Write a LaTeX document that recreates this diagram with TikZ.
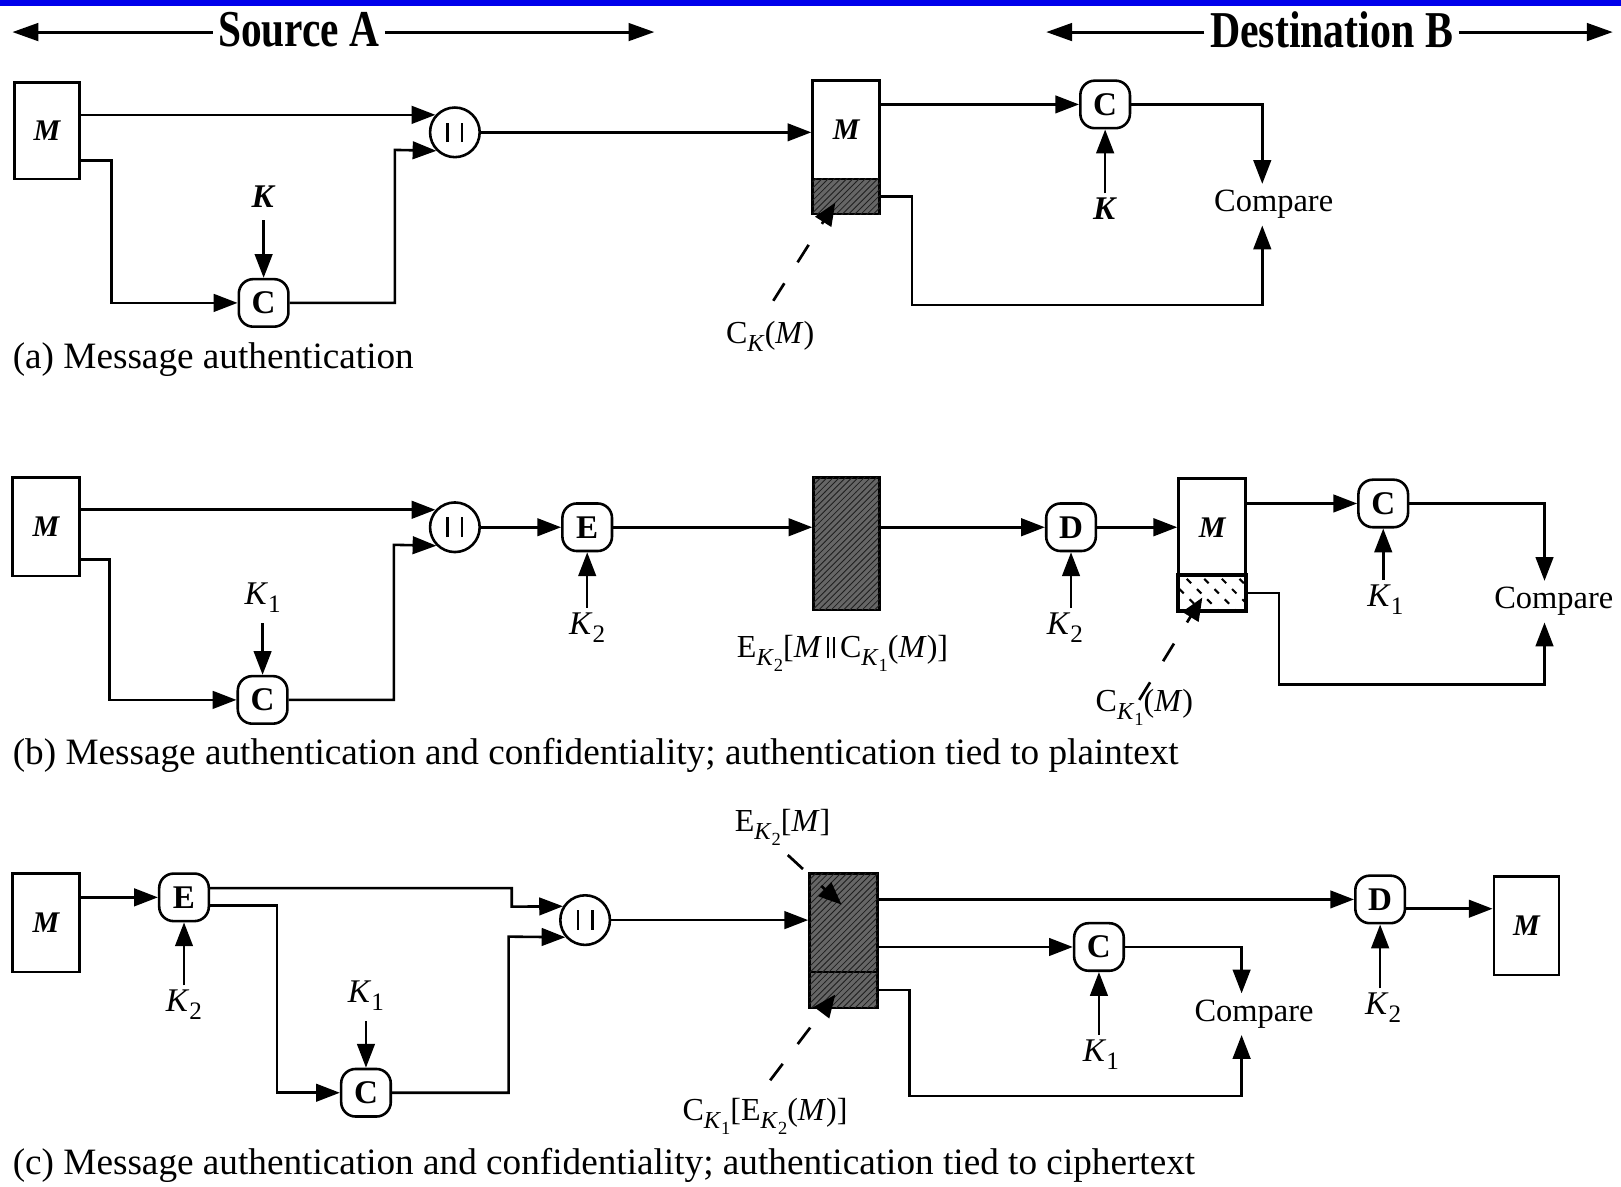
\documentclass[tikz,border=0pt]{standalone}
\usepackage{fontspec}
\setmainfont{Liberation Serif}
\usetikzlibrary{arrows.meta,patterns,calc}
\definecolor{hdrblue}{RGB}{0,0,235}
\newcommand\mybars{\rule{1.1pt}{9.5pt}\hspace{6pt}\rule{1.1pt}{9.5pt}}
\newcommand\midbars{\rule[-0.5pt]{0.8pt}{10.5pt}\hspace{2pt}\rule[-0.5pt]{0.8pt}{10.5pt}}
\newcommand\sbs[1]{\raisebox{-0.55ex}{\scalebox{0.76}{#1}}}
\begin{document}
\begin{tikzpicture}[x=0.5pt,y=-0.5pt,
  ln/.style={line width=1.25pt},
  arr/.style={ln,-{Triangle[length=11.5pt,width=8.5pt]}},
  harr/.style={line width=1.4pt,-{Triangle[length=12.5pt,width=8.5pt]}},
  leader/.style={line width=1.3pt,dash pattern=on 10pt off 12pt,-{Triangle[length=11pt,width=9pt]}},
  mbox/.style={draw,ln,fill=white,minimum width=32pt,minimum height=47pt,inner sep=0pt,font=\fontsize{14.5pt}{14.5pt}\selectfont\bfseries\itshape},
  op/.style={draw,ln,rounded corners=7pt,minimum width=24pt,minimum height=23pt,inner sep=0pt,font=\fontsize{16pt}{16pt}\selectfont\bfseries},
  cat/.style={draw,ln,circle,minimum size=24pt,inner sep=0pt},
  key/.style={inner sep=2pt,font=\fontsize{16pt}{16pt}\selectfont},
  lbl/.style={inner sep=2pt,font=\fontsize{15.5pt}{15.5pt}\selectfont},
  cmp/.style={inner sep=3pt,font=\fontsize{15.7pt}{15.7pt}\selectfont},
  captxt/.style={anchor=west,inner sep=0pt,font=\fontsize{18pt}{18pt}\selectfont},
  hdr/.style={inner sep=2.5pt,font=\fontsize{25pt}{25pt}\selectfont\bfseries},
  hatch/.style={draw,ln,fill=black!60,inner sep=0pt,postaction={pattern=north east lines,pattern color=black!88}},
]
\useasboundingbox (0,0) rectangle (1568,1148);
\fill[white] (0,0) rectangle (1568,1148);
% ---------------- header
\fill[hdrblue] (0,0) rectangle (1568,6);
\node[hdr] (srcA) at (289,29) {\scalebox{0.8}[1]{Source A}};
\coordinate (srcAL) at (12,31);
\coordinate (srcAR) at (633,31);
\draw[harr] (srcAL -| srcA.west) -- (srcAL);
\draw[harr] (srcAR -| srcA.east) -- (srcAR);
\node[hdr] (dstB) at (1288,29) {\scalebox{0.81}[1]{Destination B}};
\coordinate (dstBL) at (1012,31);
\coordinate (dstBR) at (1560,31);
\draw[harr] (dstBL -| dstB.west) -- (dstBL);
\draw[harr] (dstBR -| dstB.east) -- (dstBR);

% ---------------- panel (a)
\node[mbox,minimum height=46.5pt,minimum width=31.5pt] (Ma) at (45.5,126.5) {M};
\node[op] (Ca) at (255,293) {C};
\node[key] (Ka) at (255,190) {\textbf{\textit{K}}};
\node[cat] (cata) at (440,128) {\mybars};
\node[mbox,minimum height=47.5pt,minimum width=32.5pt] (Mda) at (818.5,125.5) {M};
\node[hatch,minimum width=32.5pt,minimum height=17pt] (Tda) at (818.5,190) {};
\node[op] (Cda) at (1069,101) {C};
\node[key] (Kda) at (1069,202) {\textbf{\textit{K}}};
\node[cmp] (Cmpa) at (1232,198) {Compare};
\node[lbl] (CKa) at (745,325) {C\sbs{\textit{K}}(\textit{M})};
\node[captxt] (capa) at (12,348) {(a) Message authentication};

\draw[arr] (Ma.east |- cata.138) -- (cata.138);
\draw[arr] (Ma.east |- 0,155) -| (108,293) -- (Ca.west);
\draw[arr,shorten <=4pt] (Ka.south) -- (Ca.north);
\draw[arr] (Ca.east) -| (382,145) -- (cata.225);
\draw[arr] (cata.east) -- (Mda.west |- cata.east);
\draw[arr] (Mda.east |- Cda.west) -- (Cda.west);
\draw[arr] (Kda.north) -- (Cda.south);
\draw[arr] (Cda.east) -| ([xshift=-5.5pt]Cmpa.north);
\draw[arr] (Tda.east) -| (882,295) -| ([xshift=-5.5pt]Cmpa.south);
\draw[leader] ([xshift=1.5pt,yshift=7.5pt]CKa.north) -- ([xshift=-5.25pt,yshift=-3pt]Tda.center);

% ---------------- panel (b)
\node[mbox,minimum height=47.5pt,minimum width=32.5pt] (Mb) at (44.5,509.5) {M};
\node[op] (Cb) at (254,677) {C};
\node[key] (Kb) at (254,578) {\textit{K}\sbs{1}};
\node[cat] (catb) at (440,510) {\mybars};
\node[op] (Eb) at (568,510) {E};
\node[key] (K2b) at (568,607) {\textit{K}\sbs{2}};
\node[hatch,minimum width=32pt,minimum height=64pt] (Sb) at (819,526) {};
\node[lbl] (Lb) at (815,632) {E\sbs{\textit{K}\sbs{2}}[\textit{M}\,\midbars\,C\sbs{\textit{K}\sbs{1}}(\textit{M})]};
\node[op] (Db) at (1036,510) {D};
\node[key] (K2b2) at (1030,607) {\textit{K}\sbs{2}};
\node[mbox,minimum height=47pt,minimum width=32.5pt] (Mdb) at (1172.5,510) {M};
\node[draw,ln,fill=white,inner sep=0pt,minimum width=32.5pt,minimum height=16.5pt] (Tdb) at (1172.5,573.5) {};
\begin{scope}
  \clip (Tdb.south west) rectangle (Tdb.north east);
  \foreach \k in {0,...,6}
    \draw[line width=1pt,dash pattern=on 3pt off 4pt] (1104+17*\k,550) -- ++(46,46);
\end{scope}
\draw[ln] (Tdb.south west) rectangle (Tdb.north east);
\node[op] (Cdb) at (1338,487) {C};
\node[key] (K1db) at (1340,580) {\textit{K}\sbs{1}};
\node[cmp] (Cmpb) at (1503,582) {Compare};
\node[lbl] (CK1b) at (1107,684) {C\sbs{\textit{K}\sbs{1}}(\textit{M})};
\node[captxt] (capb) at (12,731) {(b) Message authentication and confidentiality; authentication tied to plaintext};

\draw[arr] (Mb.east |- catb.138) -- (catb.138);
\draw[arr] (Mb.east |- 0,541) -| (106,677) -- (Cb.west);
\draw[arr,shorten <=3pt] (Kb.south) -- (Cb.north);
\draw[arr] (Cb.east) -| (381,527) -- (catb.225);
\draw[arr] (catb.east) -- (Eb.west);
\draw[arr] (Eb.south |- K2b.north) -- (Eb.south);
\draw[arr] (Eb.east) -- (Sb.west |- Eb.east);
\draw[arr] (Sb.east |- Db.west) -- (Db.west);
\draw[arr] (Db.south |- K2b2.north) -- (Db.south);
\draw[arr] (Db.east) -- (Mdb.west |- Db.east);
\draw[arr] (Mdb.east |- Cdb.west) -- (Cdb.west);
\draw[arr] (Cdb.south |- K1db.north) -- (Cdb.south);
\draw[arr] (Cdb.east) -| ([xshift=-4.5pt]Cmpb.north);
\draw[arr] (Tdb.east) -| (1237,662) -| ([xshift=-4.5pt]Cmpb.south);
\draw[leader] ([xshift=-2.5pt,yshift=3.5pt]CK1b.center) -- ([xshift=-4.75pt,yshift=-2.25pt]Tdb.center);

% ---------------- panel (c)
\node[mbox,minimum height=47.5pt,minimum width=32.5pt] (Mc) at (44.5,892.5) {M};
\node[op] (Ec) at (178,868) {E};
\node[key] (K2c) at (178,972) {\textit{K}\sbs{2}};
\node[op] (Cc) at (354,1057) {C};
\node[key] (K1c) at (354,963) {\textit{K}\sbs{1}};
\node[cat] (catc) at (566,890) {\mybars};
\node[hatch,minimum width=33pt,minimum height=47.5pt] (Sc) at (816,892.5) {};
\node[hatch,minimum width=33pt,minimum height=17.5pt] (Sc2) at (816,957.5) {};
\node[lbl] (EM) at (757,800) {E\sbs{\textit{K}\sbs{2}}[\textit{M}]};
\node[lbl] (CE) at (740,1080) {C\sbs{\textit{K}\sbs{1}}[E\sbs{\textit{K}\sbs{2}}(\textit{M})]};
\node[op] (Dc) at (1335,870) {D};
\node[key] (K2c2) at (1338,975) {\textit{K}\sbs{2}};
\node[mbox,minimum height=47.5pt,minimum width=31.5pt] (Mdc) at (1476.5,895.5) {M};
\node[op] (Cdc) at (1063,916) {C};
\node[key] (K1dc) at (1065,1020) {\textit{K}\sbs{1}};
\node[cmp] (Cmpc) at (1213,981) {Compare};
\node[captxt] (capc) at (12,1127) {(c) Message authentication and confidentiality; authentication tied to ciphertext};

\draw[arr] (Mc.east |- Ec.west) -- (Ec.west);
\draw[arr] (Ec.south |- K2c.north) -- (Ec.south);
\draw[arr] (Ec.east |- 0,859) -| (495,877) -- (catc.148);
\draw[arr] (Ec.east |- 0,876) -| (268,1057) -- (Cc.west);
\draw[arr,shorten <=3pt] (K1c.south) -- (Cc.north);
\draw[arr] (Cc.east) -| (492,906) -- (catc.221);
\draw[arr] (catc.east) -- (Sc.west |- catc.east);
\draw[arr] (Sc.east |- Dc.west) -- (Dc.west);
\draw[arr] (Dc.south |- K2c2.north) -- (Dc.south);
\draw[arr] (Dc.east |- 0,879) -- (Mdc.west |- 0,879);
\draw[arr] (Sc.east |- Cdc.west) -- (Cdc.west);
\draw[arr] (Cdc.south |- K1dc.north) -- (Cdc.south);
\draw[arr] (Cdc.east) -| ([xshift=-6pt]Cmpc.north);
\draw[arr] (Sc2.east) -| (880,1060) -| ([xshift=-6pt]Cmpc.south);
\draw[leader] ([xshift=2.5pt,yshift=-2.5pt]EM.south) -- ([xshift=-1pt,yshift=8.75pt]Sc.center);
\draw[leader] ([xshift=2.5pt,yshift=6.5pt]CE.north) -- ([xshift=-4pt,yshift=-2.25pt]Sc2.center);
\end{tikzpicture}
\end{document}
